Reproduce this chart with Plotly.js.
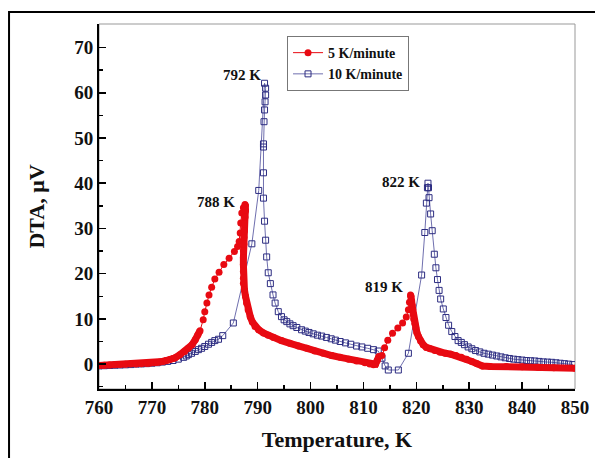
<!DOCTYPE html>
<html>
<head>
<meta charset="utf-8">
<script src="https://cdn.plot.ly/plotly-3.0.1.min.js"></script>
<style>
  html, body { margin: 0; padding: 0; background: #ffffff; }
  #chart { width: 595px; height: 458px; }
</style>
</head>
<body>
<div id="chart"></div>
<script>
// ---- Data ----
// 5 K/minute series (temperature in K, DTA in µV), in recorded order
const t5 = [760, 761, 762, 763, 764, 765, 766, 767, 768, 769, 769.6, 770.3, 770.9, 771.5, 772, 772.7, 773.4, 774, 774.4, 775.3, 776.2, 776.9, 777.6, 778.2, 778.7, 779.1,
  779.7, 780.0, 780.4, 780.8, 781.3, 781.9, 782.7, 783.6, 784.6, 785.6, 786.2, 786.5, 786.7, 786.8, 787.0, 787.3,
  787.6, 787.7, 787.7, 787.6, 787.5, 787.5, 787.4, 787.4, 787.3, 787.3, 787.3, 787.3, 787.3, 787.3,
  787.5, 787.7, 787.9, 788.2, 788.6, 789.0, 789.5, 790.2, 791.1, 792.0, 793.0, 794.5, 796.1, 797.7, 799.3, 800.8, 802.4, 804.0, 805.6, 807.2, 808.7, 810.3, 811.2, 811.9,
  812.3, 812.6, 812.9, 813.5, 814.0, 814.6, 815.5, 816.5, 817.4, 818.1, 818.5, 818.7,
  818.9, 819.0, 819.1, 819.2, 819.3, 819.4, 819.5, 819.7, 819.9, 820.1, 820.4, 820.8, 821.3, 821.9, 822.6, 823.5, 824.5,
  825.5, 826.5, 827.5, 828.5, 829.5, 830.5, 831.5, 832.5, 834, 837, 840, 843, 846, 850];
const dta5 = [-0.3, -0.25, -0.2, -0.15, -0.1, -0.05, 0.0, 0.05, 0.1, 0.15, 0.2, 0.3, 0.35, 0.45, 0.6, 0.8, 1.0, 1.25, 1.4, 2.1, 2.8, 3.5, 4.3, 5.4, 6.5, 7.4,
  9.8, 11.6, 13.5, 15.3, 17.0, 18.8, 20.3, 22.0, 23.4, 24.9, 26.0, 27.1, 29.0, 31.2, 33.4, 34.6,
  35.3, 35.0, 34.0, 32.5, 31.0, 29.5, 28.0, 26.5, 25.0, 23.5, 22.0, 20.5, 19.0, 17.9,
  16.4, 15.0, 13.5, 12.0, 10.5, 9.3, 8.3, 7.6, 6.9, 6.4, 5.9, 5.2, 4.6, 4.0, 3.5, 2.9, 2.4, 1.9, 1.5, 1.1, 0.7, 0.3, 0.05, -0.15,
  0.0, 0.8, 1.7, 1.9, 3.6, 5.3, 6.8, 8.0, 9.1, 10.4, 12.0, 13.7,
  15.3, 15.0, 14.0, 13.0, 12.0, 11.0, 10.0, 9.0, 8.0, 7.0, 6.1, 5.1, 4.3, 3.7, 3.4, 3.0, 2.6,
  2.4, 2.2, 1.9, 1.5, 1.1, 0.6, 0.1, -0.4, -0.5, -0.55, -0.6, -0.7, -0.8, -0.9];

// 10 K/minute series, in recorded order
const t10 = [760, 761, 762, 763, 764, 765, 766, 767, 768, 769, 770, 771, 772, 773, 774, 775, 776.0, 776.5, 776.9, 777.5, 778.2, 778.8, 779.4, 780.0, 780.7, 781.3, 781.9, 782.6, 783.4, 785.4,
  788.9, 790.2, 791.3, 791.5, 791.5, 791.4, 791.3, 791.2, 791.1, 791.1, 791.1, 791.1, 791.3, 791.5, 791.7, 792.0, 792.4, 792.9, 793.3, 793.9, 794.5, 795.0, 795.5, 796.1, 796.7, 797.4,
  798.3, 799.0, 799.7, 800.5, 801.3, 802.1, 803.0, 803.9, 804.7, 805.6, 806.6, 807.6, 808.7, 809.7, 810.8, 811.9, 812.8, 813.5, 814.1, 814.7, 816.6, 818.5,
  821.0, 821.6, 821.9, 822.1, 822.2, 822.3, 822.4, 822.7, 823.0, 823.4, 823.7, 824.0, 824.3, 824.6, 825.1, 825.6, 826.1, 826.7, 827.3, 827.9, 828.5, 829.1, 829.8,
  830.5, 831.2, 832.0, 832.8, 833.6, 834.4, 835.2, 836.0, 836.8, 837.6, 838.4, 839.2, 840.0, 840.8, 841.6, 842.4, 843.2, 844.0, 844.8, 845.6, 846.4, 847.2, 848.0, 848.8, 849.6];
const dta10 = [-0.4, -0.35, -0.3, -0.25, -0.2, -0.15, -0.1, 0.0, 0.05, 0.1, 0.2, 0.3, 0.45, 0.6, 0.8, 1.1, 1.5, 1.8, 2.1, 2.4, 2.8, 3.2, 3.5, 3.9, 4.4, 4.8, 5.2, 5.5, 6.3, 9.1,
  26.6, 38.4, 62.1, 61.0, 59.5, 58.0, 56.2, 53.6, 48.7, 48.0, 42.3, 36.7, 31.6, 27.4, 23.7, 20.2, 17.8, 15.3, 13.5, 11.6, 10.5, 9.8, 9.4, 8.9, 8.5, 8.1,
  7.6, 7.3, 7.0, 6.7, 6.4, 6.2, 5.9, 5.6, 5.3, 5.0, 4.7, 4.4, 4.0, 3.8, 3.5, 3.2, 2.9, 1.3, -0.4, -1.3, -1.3, 2.4,
  19.7, 29.1, 35.6, 39.0, 40.0, 39.0, 36.8, 33.2, 29.5, 24.3, 21.3, 18.7, 16.3, 14.4, 12.2, 10.3, 8.6, 7.2, 6.1, 5.2, 4.8, 4.3, 3.8,
  3.4, 3.0, 2.7, 2.4, 2.2, 2.0, 1.8, 1.6, 1.4, 1.25, 1.1, 1.0, 0.9, 0.8, 0.75, 0.7, 0.6, 0.5, 0.45, 0.4, 0.3, 0.2, 0.1, 0.0, -0.1];

// Peak labels
const peakText = ['792 K', '788 K', '822 K', '819 K'];
const peakX = [787.0, 782.1, 817.1, 813.9];
const peakY = [64.0, 35.9, 40.3, 17.1];

const seriesNames = ['5 K/minute', '10 K/minute'];
const xTitle = 'Temperature, K';
const yTitle = 'DTA, \u03BCV';

// ---- Styling ----
const RED = 'rgb(232,10,18)';
const NAVY = 'rgb(45,45,130)';
const NAVY_LINE = 'rgb(95,95,165)';
const FONT = 'Liberation Serif, Times New Roman, serif';

// In the slow parts of the run the red points overlap into a solid band; the band trace
// reproduces that, while the two fast rises keep their separate dots.
const i1s = t5.findIndex(t => t > 779.2);
const i1p = dta5.indexOf(Math.max(...dta5));
const i2s = t5.findIndex(t => t > 813.0);
const i2p = dta5.indexOf(Math.max(...dta5.slice(i2s)), i2s);
const band5 = dta5.map((v, i) => ((i >= i1s && i < i1p) || (i >= i2s && i < i2p)) ? null : v);

const traces = [
  {
    x: t10, y: dta10, name: seriesNames[1], type: 'scatter', mode: 'lines+markers',
    line: { color: NAVY_LINE, width: 0.9 },
    marker: { symbol: 'square-open', size: 6, color: NAVY, line: { width: 1, color: NAVY } }
  },
  {
    x: t5, y: band5, type: 'scatter', mode: 'lines', showlegend: false, hoverinfo: 'skip',
    line: { color: RED, width: 7 }, connectgaps: false
  },
  {
    x: t5, y: dta5, name: seriesNames[0], type: 'scatter', mode: 'lines+markers',
    line: { color: RED, width: 1 },
    marker: { symbol: 'circle', size: 7, color: RED }
  }
];

const annotations = peakText.map((s, i) => ({
  x: peakX[i], y: peakY[i], xref: 'x', yref: 'y', text: s, showarrow: false,
  font: { family: FONT, size: 15, color: '#111', weight: 'bold' }
}));

const axisCommon = {
  showgrid: false, zeroline: false,
  showline: true, linecolor: '#000', linewidth: 2,
  ticks: 'inside', ticklen: 7, tickwidth: 1.5, tickcolor: '#000',
  tickfont: { family: FONT, size: 19, color: '#111', weight: 'bold' },
  mirror: false
};

const layout = {
  width: 595, height: 458,
  margin: { l: 99, r: 20, t: 24, b: 69, pad: 0 },
  paper_bgcolor: '#fff', plot_bgcolor: '#fff',
  showlegend: true,
  font: { family: FONT, color: '#111' },
  xaxis: Object.assign({}, axisCommon, {
    range: [760, 850], tick0: 760, dtick: 10,
    minor: { ticks: 'inside', ticklen: 4, dtick: 5, tick0: 760, tickcolor: '#000', tickwidth: 1.5 },
    title: { text: xTitle, font: { family: FONT, size: 22, color: '#111', weight: 'bold' }, standoff: 15 }
  }),
  yaxis: Object.assign({}, axisCommon, {
    range: [-5.5, 75.2], tick0: 0, dtick: 10,
    minor: { ticks: 'inside', ticklen: 4, dtick: 5, tick0: 0, tickcolor: '#000', tickwidth: 1.5 },
    title: { text: yTitle, font: { family: FONT, size: 22, color: '#111', weight: 'bold' }, standoff: 24 }
  }),
  legend: {
    x: 0.395, y: 0.967, xanchor: 'left', yanchor: 'top',
    traceorder: 'reversed',
    bgcolor: '#fff', bordercolor: '#777', borderwidth: 1,
    font: { family: FONT, size: 14, color: '#111', weight: 'bold' },
    tracegroupgap: 0
  },
  annotations: annotations,
  shapes: [
    { type: 'rect', xref: 'paper', yref: 'paper', x0: 0, x1: 1, y0: 0, y1: 1,
      line: { color: '#999', width: 1 }, layer: 'below' },
    { type: 'path', xref: 'paper', yref: 'paper',
      path: 'M -0.189 -0.4 L -0.189 1.033 L 1.2 1.033',
      line: { color: '#000', width: 2 } }
  ]
};

Plotly.newPlot('chart', traces, layout, { staticPlot: true, displayModeBar: false });
</script>
</body>
</html>
